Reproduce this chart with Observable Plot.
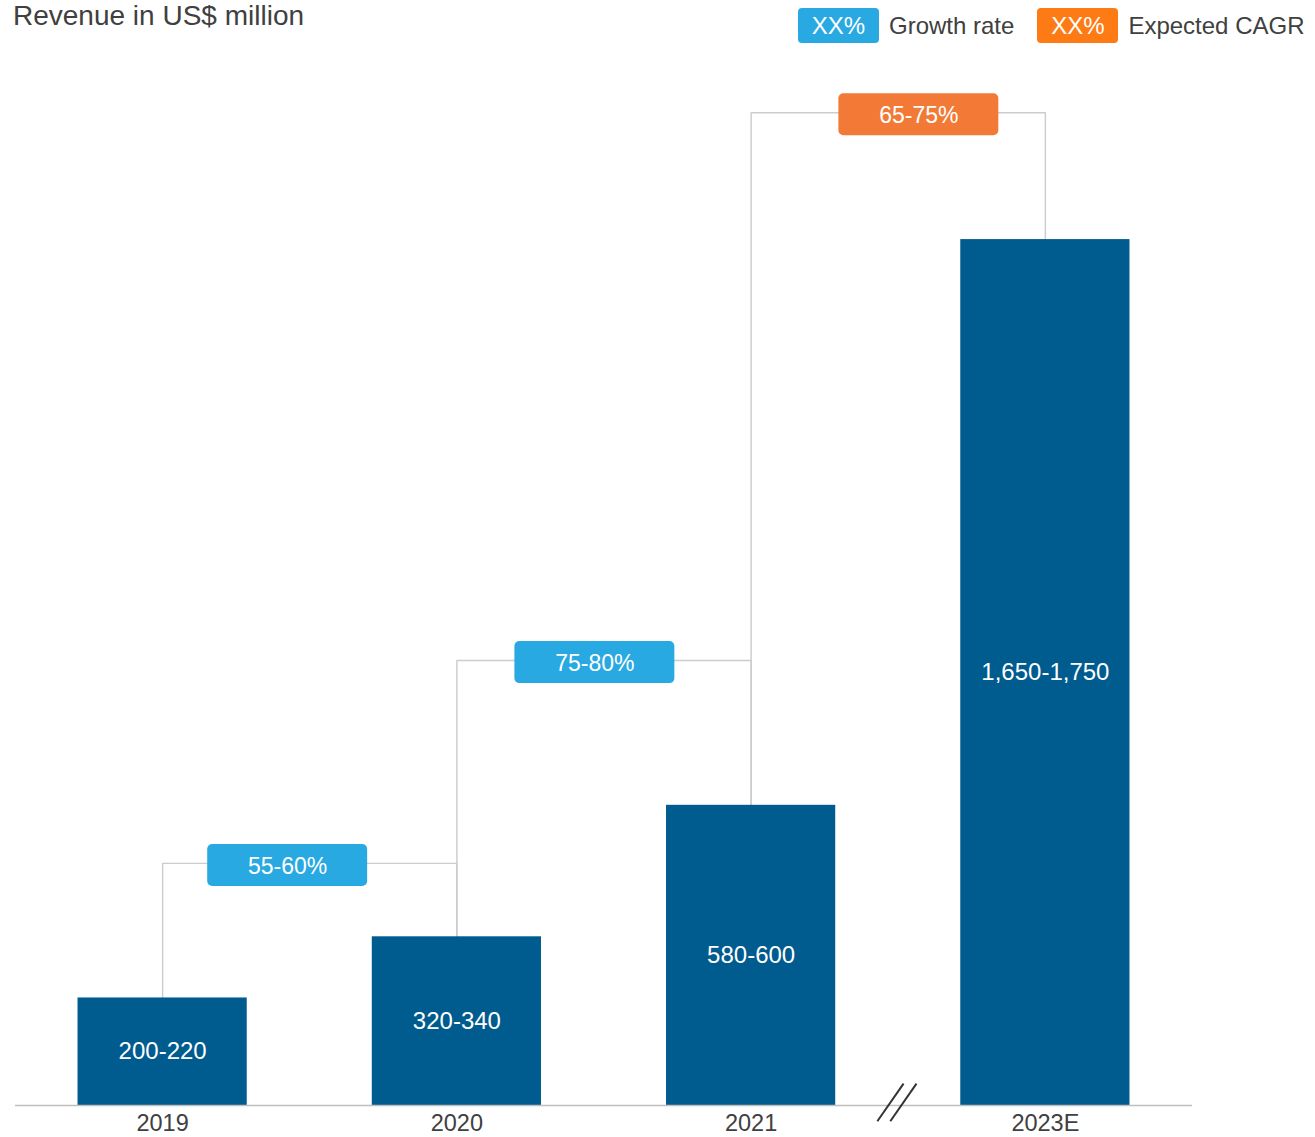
<!DOCTYPE html>
<html>
<head>
<meta charset="utf-8">
<script src="https://cdn.jsdelivr.net/npm/d3@7"></script>
<script src="https://cdn.jsdelivr.net/npm/@observablehq/plot@0.6"></script>
<style>
  html, body { margin: 0; padding: 0; background: #ffffff; }
  body { font-family: "Liberation Sans", Arial, sans-serif; color: #404040; }
  #wrap { position: relative; width: 1315px; height: 1137px; overflow: hidden; }
  #title { position: absolute; left: 13px; top: 2px; font-size: 28px; line-height: 28px; color: #404040; white-space: nowrap; }
  #legend { position: absolute; left: 798px; top: 8px; height: 35px; display: flex; align-items: center; white-space: nowrap; }
  .badge { display: inline-flex; align-items: center; justify-content: center; width: 81px; height: 35px; border-radius: 4px; color: #fff; font-size: 24px; }
  .lab { font-size: 24px; color: #404040; margin-left: 10px; }
  .gap { width: 23px; display: inline-block; }
  #chart { position: absolute; left: 0; top: 50px; }
</style>
</head>
<body>
<div id="wrap">
  <div id="title">Revenue in US$ million</div>
  <div id="legend"></div>
  <div id="chart"></div>
</div>
<script>
// ---------- data ----------
const years = ["2019", "2020", "2021", "2023E"];
const revenue = [211, 331, 589, 1699];              // bar heights (US$ million, range midpoints)
const revenueLabels = ["200-220", "320-340", "580-600", "1,650-1,750"];

const rateLabels = ["55-60%", "75-80%", "65-75%"];
const rateFrom = [0, 1, 2];
const rateTo = [1, 2, 3];
const rateKind = ["growth", "growth", "cagr"];
const rateLevels = [475, 873, 1948];                 // connector level (US$ million)

const legendKinds = ["growth", "cagr"];
const legendLabels = ["Growth rate", "Expected CAGR"];
const legendBadgeText = "XX%";

// ---------- styles / layout ----------
const barColor = "#005b8e";
const kindColor = {growth: "#29a9e1", cagr: "#f27a36"};
const legendColor = {growth: "#29a9e1", cagr: "#fe7a15"};
const badgeShift = [-0.075, -0.031, 0.070];
const badgeDrop = 4;
const barHalf = 0.2875;
const badgeHalfW = 0.2718;
const badgeHalfH = 41.2;

// legend
const legend = document.getElementById("legend");
legendKinds.forEach((k, i) => {
  if (i > 0) { const g = document.createElement("span"); g.className = "gap"; legend.appendChild(g); }
  const b = document.createElement("span");
  b.className = "badge"; b.style.background = legendColor[k]; b.textContent = legendBadgeText;
  legend.appendChild(b);
  const l = document.createElement("span");
  l.className = "lab"; l.textContent = legendLabels[i];
  legend.appendChild(l);
});

// tables
const bars = years.map((y, i) => ({i, year: y, value: revenue[i], label: revenueLabels[i]}));
const rates = rateLabels.map((label, j) => ({
  j, label, from: rateFrom[j], to: rateTo[j], kind: rateKind[j], level: rateLevels[j],
  cx: (rateFrom[j] + rateTo[j]) / 2 + badgeShift[j],
  cy: rateLevels[j] - badgeDrop
}));
const connectors = rates.flatMap(r => [
  {id: r.j, x: r.from, y: revenue[r.from]},
  {id: r.j, x: r.from, y: r.level},
  {id: r.j, x: r.to, y: r.level},
  {id: r.j, x: r.to, y: revenue[r.to]}
]);
// axis break between 2021 and 2023E (missing 2022)
const breakAt = (years.indexOf("2021") + years.indexOf("2023E")) / 2;
const slashes = [
  {x1: breakAt - 0.071, x2: breakAt + 0.018, y1: -31, y2: 43},
  {x1: breakAt - 0.027, x2: breakAt + 0.062, y1: -31, y2: 43}
];

const chart = Plot.plot({
  width: 1315,
  height: 1087,
  marginTop: 0,
  marginLeft: 15,
  marginRight: 123,
  marginBottom: 32,
  style: {fontFamily: "'Liberation Sans', Arial, sans-serif", color: "#404040", background: "#ffffff"},
  x: {type: "linear", domain: [-0.5, 3.5], axis: null},
  y: {domain: [0, 2070], axis: null},
  marks: [
    Plot.line(connectors, {x: "x", y: "y", z: "id", stroke: "#cccccc", strokeWidth: 1.4}),
    Plot.rectY(bars, {x1: d => d.i - barHalf, x2: d => d.i + barHalf, y: "value", fill: barColor}),
    Plot.ruleY([0], {stroke: "#bfbfbf", strokeWidth: 1.5}),
    Plot.text(bars, {x: "i", y: d => d.value / 2, text: "label", fill: "#ffffff", fontSize: 24}),
    Plot.text(bars, {x: "i", y: 0, text: "year", fill: "#404040", fontSize: 23.5, lineAnchor: "top", dy: 9}),
    Plot.rect(rates, {
      x1: d => d.cx - badgeHalfW, x2: d => d.cx + badgeHalfW,
      y1: d => d.cy - badgeHalfH, y2: d => d.cy + badgeHalfH,
      fill: d => kindColor[d.kind], rx: 5
    }),
    Plot.text(rates, {x: "cx", y: "cy", text: "label", fill: "#ffffff", fontSize: 23, dy: 1}),
    Plot.link(slashes, {x1: "x1", y1: "y1", x2: "x2", y2: "y2", stroke: "#333333", strokeWidth: 2})
  ]
});
document.getElementById("chart").appendChild(chart);
</script>
</body>
</html>
